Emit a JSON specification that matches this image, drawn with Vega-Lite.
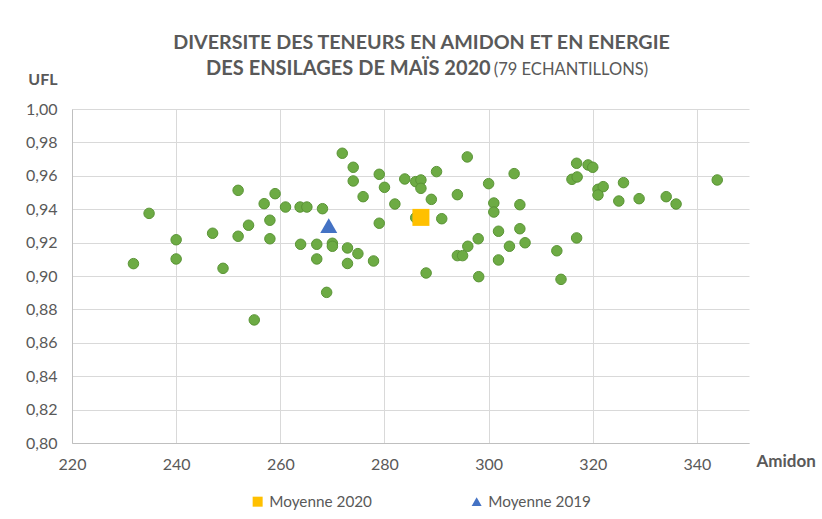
{
  "$schema": "https://vega.github.io/schema/vega-lite/v6.json",
  "width": 677,
  "height": 334,
  "autosize": {"type": "none"},
  "padding": {"left": 72, "top": 109, "right": 73, "bottom": 76},
  "background": "white",
  "title": {
    "text": "DIVERSITE DES TENEURS EN AMIDON ET EN ENERGIE",
    "font": "Lato",
    "fontSize": 19.7,
    "fontWeight": "bold",
    "color": "#595959",
    "anchor": "middle",
    "frame": "group",
    "baseline": "alphabetic",
    "dx": 11,
    "offset": -10
  },
  "config": {
    "view": {"stroke": null},
    "axis": {
      "gridColor": "#d9d9d9",
      "gridWidth": 1,
      "domainColor": "#bfbfbf",
      "ticks": false,
      "labelFont": "Lato",
      "labelFontSize": 16,
      "labelColor": "#595959",
      "titleFont": "Lato",
      "titleFontSize": 16,
      "titleFontWeight": "bold",
      "titleColor": "#595959"
    }
  },
  "layer": [
    {
      "data": {
        "values": [
          {"amidon": 271.9, "ufl": 0.9735},
          {"amidon": 251.9, "ufl": 0.9513},
          {"amidon": 259.0, "ufl": 0.9493},
          {"amidon": 256.9, "ufl": 0.9433},
          {"amidon": 261.0, "ufl": 0.9413},
          {"amidon": 263.8, "ufl": 0.9413},
          {"amidon": 265.1, "ufl": 0.9413},
          {"amidon": 268.1, "ufl": 0.9403},
          {"amidon": 234.8, "ufl": 0.9375},
          {"amidon": 258.0, "ufl": 0.9334},
          {"amidon": 253.9, "ufl": 0.9304},
          {"amidon": 247.0, "ufl": 0.9256},
          {"amidon": 251.9, "ufl": 0.9238},
          {"amidon": 258.0, "ufl": 0.9223},
          {"amidon": 240.0, "ufl": 0.9217},
          {"amidon": 263.9, "ufl": 0.9190},
          {"amidon": 267.0, "ufl": 0.9190},
          {"amidon": 270.0, "ufl": 0.9196},
          {"amidon": 270.0, "ufl": 0.9178},
          {"amidon": 272.9, "ufl": 0.9168},
          {"amidon": 267.0, "ufl": 0.9102},
          {"amidon": 272.9, "ufl": 0.9075},
          {"amidon": 240.0, "ufl": 0.9102},
          {"amidon": 231.8, "ufl": 0.9074},
          {"amidon": 249.0, "ufl": 0.9046},
          {"amidon": 268.9, "ufl": 0.8902},
          {"amidon": 255.0, "ufl": 0.8737},
          {"amidon": 274.0, "ufl": 0.9651},
          {"amidon": 274.0, "ufl": 0.9569},
          {"amidon": 279.0, "ufl": 0.9609},
          {"amidon": 280.0, "ufl": 0.9531},
          {"amidon": 275.9, "ufl": 0.9475},
          {"amidon": 283.9, "ufl": 0.9581},
          {"amidon": 286.0, "ufl": 0.9565},
          {"amidon": 287.0, "ufl": 0.9575},
          {"amidon": 287.0, "ufl": 0.9525},
          {"amidon": 290.0, "ufl": 0.9625},
          {"amidon": 295.9, "ufl": 0.9713},
          {"amidon": 289.0, "ufl": 0.9459},
          {"amidon": 282.0, "ufl": 0.9431},
          {"amidon": 294.0, "ufl": 0.9487},
          {"amidon": 300.0, "ufl": 0.9553},
          {"amidon": 304.9, "ufl": 0.9613},
          {"amidon": 301.0, "ufl": 0.9437},
          {"amidon": 301.0, "ufl": 0.9383},
          {"amidon": 306.0, "ufl": 0.9427},
          {"amidon": 286.0, "ufl": 0.9349},
          {"amidon": 291.0, "ufl": 0.9343},
          {"amidon": 279.0, "ufl": 0.9316},
          {"amidon": 301.9, "ufl": 0.9268},
          {"amidon": 306.0, "ufl": 0.9283},
          {"amidon": 298.0, "ufl": 0.9223},
          {"amidon": 296.0, "ufl": 0.9178},
          {"amidon": 304.0, "ufl": 0.9178},
          {"amidon": 307.0, "ufl": 0.9199},
          {"amidon": 294.0, "ufl": 0.9122},
          {"amidon": 295.0, "ufl": 0.9122},
          {"amidon": 301.9, "ufl": 0.9096},
          {"amidon": 313.1, "ufl": 0.9151},
          {"amidon": 288.0, "ufl": 0.9018},
          {"amidon": 298.1, "ufl": 0.8996},
          {"amidon": 313.9, "ufl": 0.8980},
          {"amidon": 274.9, "ufl": 0.9134},
          {"amidon": 277.9, "ufl": 0.9090},
          {"amidon": 316.9, "ufl": 0.9675},
          {"amidon": 319.1, "ufl": 0.9665},
          {"amidon": 320.0, "ufl": 0.9651},
          {"amidon": 316.0, "ufl": 0.9579},
          {"amidon": 317.0, "ufl": 0.9593},
          {"amidon": 321.0, "ufl": 0.9519},
          {"amidon": 322.0, "ufl": 0.9535},
          {"amidon": 321.0, "ufl": 0.9485},
          {"amidon": 325.9, "ufl": 0.9559},
          {"amidon": 325.0, "ufl": 0.9449},
          {"amidon": 328.9, "ufl": 0.9463},
          {"amidon": 334.1, "ufl": 0.9475},
          {"amidon": 336.0, "ufl": 0.9431},
          {"amidon": 343.9, "ufl": 0.9575},
          {"amidon": 316.9, "ufl": 0.9228}
        ]
      },
      "mark": {"type": "circle", "size": 110, "color": "#6dab44", "stroke": "#5a9436", "strokeWidth": 1, "opacity": 1},
      "encoding": {
        "x": {
          "field": "amidon", "type": "quantitative",
          "scale": {"domain": [220, 350], "nice": false, "zero": false},
          "axis": {
            "values": [220, 240, 260, 280, 300, 320, 340],
            "tickCount": 20,
            "labelPadding": 13,
            "labelFlush": false,
            "labelOverlap": false,
            "title": "Amidon",
            "titleFontSize": 17,
            "titleAnchor": "start",
            "titleAlign": "left",
            "titleBaseline": "middle",
            "titleX": 684,
            "titleY": 18
          }
        },
        "y": {
          "field": "ufl", "type": "quantitative",
          "scale": {"domain": [0.8, 1.0], "nice": false, "zero": false},
          "axis": {
            "values": [0.8, 0.82, 0.84, 0.86, 0.88, 0.9, 0.92, 0.94, 0.96, 0.98, 1.0],
            "tickCount": 20,
            "labelExpr": "replace(format(datum.value, '.2f'), '.', ',')",
            "labelPadding": 15,
            "labelFlush": false,
            "labelOverlap": false,
            "title": "UFL",
            "titleAngle": 0,
            "titleAlign": "right",
            "titleBaseline": "middle",
            "titleX": -15,
            "titleY": -30
          }
        }
      }
    },
    {
      "data": {
        "values": [
          {"serie": "Moyenne 2020", "amidon": 287.0, "ufl": 0.9351},
          {"serie": "Moyenne 2019", "amidon": 269.3, "ufl": 0.9301}
        ]
      },
      "mark": {"type": "point", "filled": true, "size": 289, "opacity": 1, "strokeWidth": 0},
      "encoding": {
        "x": {"field": "amidon", "type": "quantitative"},
        "y": {"field": "ufl", "type": "quantitative"},
        "color": {
          "field": "serie", "type": "nominal",
          "scale": {"domain": ["Moyenne 2020", "Moyenne 2019"], "range": ["#FFC000", "#4472C4"]},
          "legend": {
            "title": null,
            "orient": "none",
            "direction": "horizontal",
            "legendX": 178,
            "legendY": 385,
            "padding": 0,
            "symbolSize": 100,
            "symbolStrokeWidth": 0,
            "labelFont": "Lato",
            "labelFontSize": 15.3,
            "labelColor": "#595959",
            "labelOffset": 4,
            "columnPadding": 97
          }
        },
        "shape": {
          "field": "serie", "type": "nominal",
          "scale": {"domain": ["Moyenne 2020", "Moyenne 2019"], "range": ["square", "triangle-up"]}
        }
      }
    },
    {
      "data": {"values": [{"t": "DES ENSILAGES DE MAÏS 2020"}]},
      "mark": {"type": "text", "align": "right", "baseline": "alphabetic", "font": "Lato", "fontSize": 20, "fontWeight": "bold", "color": "#595959"},
      "encoding": {
        "text": {"field": "t"},
        "x": {"datum": 300.4},
        "y": {"datum": 1.0204}
      }
    },
    {
      "data": {"values": [{"t": "(79 ECHANTILLONS)"}]},
      "mark": {"type": "text", "align": "left", "baseline": "alphabetic", "font": "Lato", "fontSize": 16.5, "color": "#595959"},
      "encoding": {
        "text": {"field": "t"},
        "x": {"datum": 301.0},
        "y": {"datum": 1.0204}
      }
    }
  ]
}
